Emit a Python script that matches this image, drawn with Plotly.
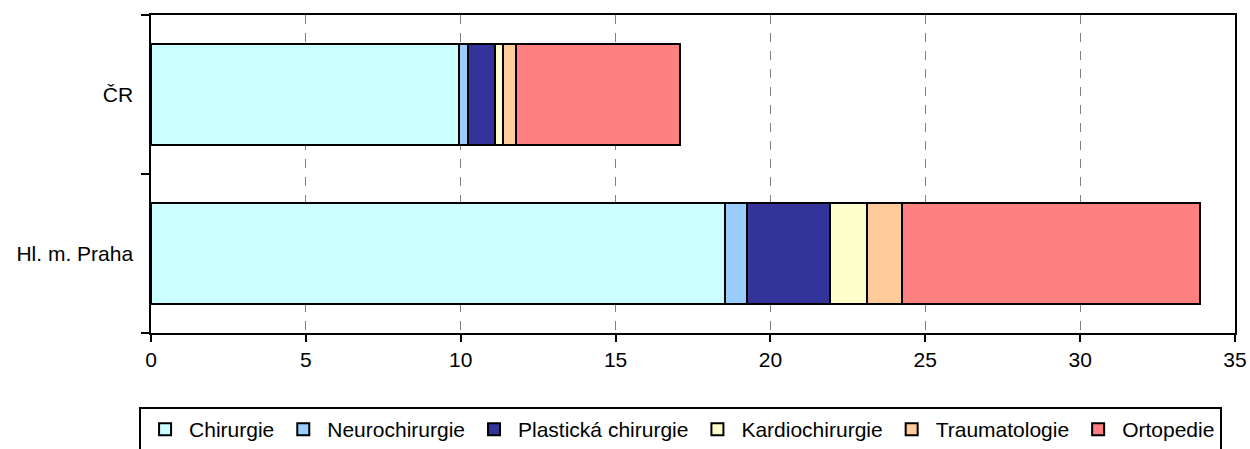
import plotly.graph_objects as go

categories = ["Hl. m. Praha", "ČR"]
series_names = ["Chirurgie", "Neurochirurgie", "Plastická chirurgie", "Kardiochirurgie", "Traumatologie", "Ortopedie"]
chirurgie = [18.52, 9.96]
neurochirurgie = [0.72, 0.28]
plasticka = [2.68, 0.88]
kardiochirurgie = [1.19, 0.25]
traumatologie = [1.15, 0.43]
ortopedie = [9.61, 5.28]
colors = ["#CCFFFF", "#99CCFF", "#333399", "#FFFFCC", "#FFCC99", "#FF8080"]
x_ticks = [0, 5, 10, 15, 20, 25, 30, 35]

values = [chirurgie, neurochirurgie, plasticka, kardiochirurgie, traumatologie, ortopedie]

FONT = "Liberation Sans, Arial, sans-serif"

fig = go.Figure()
for name, vals, col in zip(series_names, values, colors):
    fig.add_trace(go.Bar(
        y=categories, x=vals, name=name, orientation="h",
        marker=dict(color=col, line=dict(color="black", width=2)),
    ))

fig.update_layout(
    barmode="stack",
    bargap=0.37,
    width=1250, height=449,
    margin=dict(l=151, r=15, t=15, b=116, autoexpand=False),
    paper_bgcolor="white", plot_bgcolor="white",
    font=dict(family=FONT, size=21, color="black"),
    showlegend=True,
    legend=dict(
        orientation="h", x=-0.011, xanchor="left", y=-0.233, yanchor="top",
        bordercolor="black", borderwidth=2, font=dict(family=FONT, size=21),
        traceorder="normal", itemwidth=38, tracegroupgap=0,
    ),
    xaxis=dict(
        range=[0, 35], tickvals=x_ticks, ticks="outside", ticklen=7, tickcolor="black",
        tickwidth=2, showline=True, linecolor="black", linewidth=2, mirror=True,
        showgrid=True, gridcolor="#808080", griddash="dash", gridwidth=1,
        zeroline=False, fixedrange=True, ticklabeloverflow="allow",
    ),
    yaxis=dict(
        categoryorder="array", categoryarray=categories,
        ticks="outside", tickson="boundaries", ticklen=8, tickcolor="black", tickwidth=2,
        showline=True, linecolor="black", linewidth=2, mirror=True, showgrid=False,
        ticksuffix="  ",
    ),
)

fig.write_html(
    "out.html",
    config={"displayModeBar": False},
    post_script=(
        "document.body.style.margin='0';"
        "document.body.style.overflow='hidden';"
        "document.documentElement.style.overflow='hidden';"
    ),
)
